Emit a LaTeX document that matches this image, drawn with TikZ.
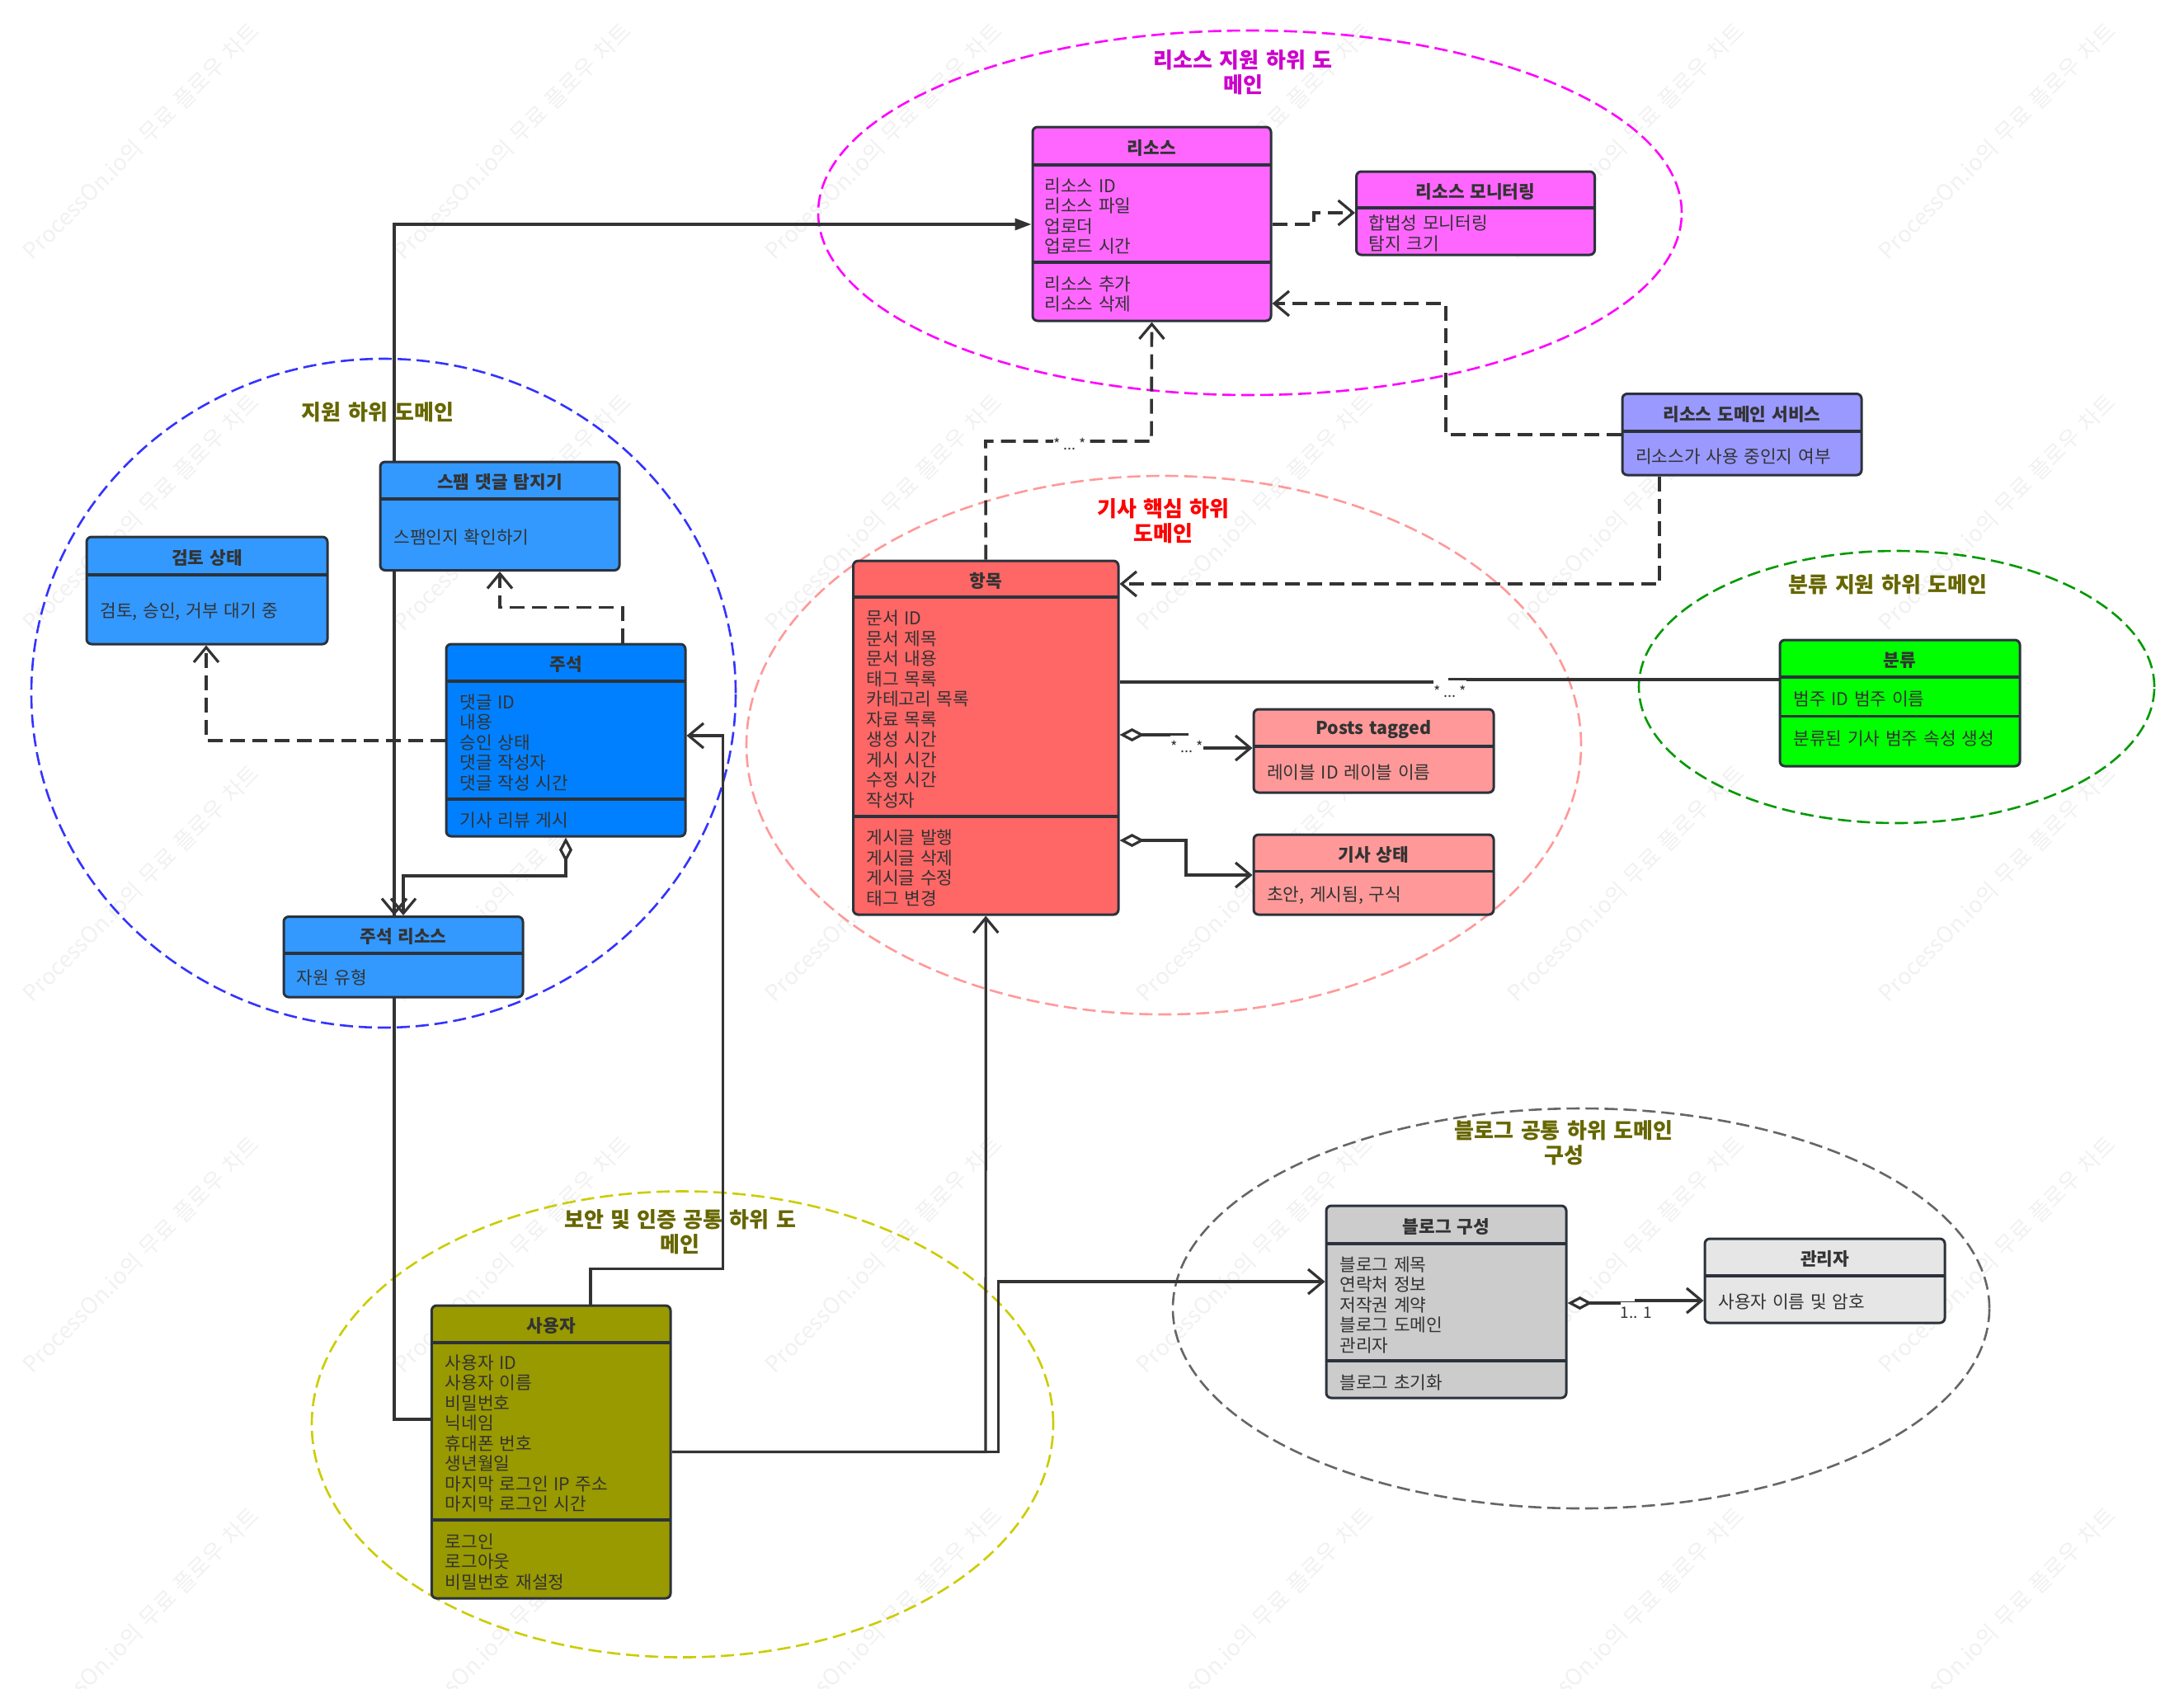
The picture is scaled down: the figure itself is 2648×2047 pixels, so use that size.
\documentclass[tikz,border=0pt]{standalone}
\usepackage{fontspec}
\setmainfont[WordSpace=1.4]{Noto Sans CJK KR}
\usepackage{xcolor}
\usepackage{tikz}
\usetikzlibrary{positioning,%
  arrows.meta,%
  backgrounds,%
  shapes.geometric%
}

\definecolor{linegray}{HTML}{333333}
\definecolor{edgegray}{HTML}{2B323B}
\definecolor{markgray}{HTML}{F1F1F1}
\definecolor{olivetitle}{HTML}{666600}
\definecolor{restitle}{HTML}{CC00CC}
\definecolor{resline}{HTML}{FF00FF}
\definecolor{supline}{HTML}{3333FF}
\definecolor{catline}{HTML}{009900}
\definecolor{secline}{HTML}{CCCC00}
\definecolor{cfgline}{HTML}{666666}
\definecolor{resfill}{HTML}{FF66FF}
\definecolor{bluefill}{HTML}{3399FF}
\definecolor{notefill}{HTML}{0080FF}
\definecolor{artfill}{HTML}{FF6666}
\definecolor{palefill}{HTML}{FF9999}
\definecolor{svcfill}{HTML}{9999FF}
\definecolor{catfill}{HTML}{00FF00}
\definecolor{userfill}{HTML}{999900}
\definecolor{cfgfill}{HTML}{CCCCCC}
\definecolor{adminfill}{HTML}{E6E6E6}

% name, colour, left, top, right, bottom, title, header line
\newcommand{\classbox}[8]{%
  \node (#1) [classbody, fill=#2, minimum width=(#5-#3)*.5pt, minimum height=(#6-#4)*.5pt]
    at ({(#3+#5)/2},{(#4+#6)/2}) {};
  \node (#1-title) [classtitle] at ({(#3+#5)/2},{(#4+#8)/2}) {#7};
  \draw[classrule] (#3,#8) -- (#5,#8);
}
\newcommand{\manystars}{*\kern2pt...\kern2pt*}

\begin{document}
\begin{tikzpicture}
    [
        x=.5pt, y=-.5pt,
        classbody/.style={draw=edgegray, line width=1.5pt, rounded corners=3pt, inner sep=0pt},
        classtitle/.style={font=\fontsize{10.7}{12.25}\selectfont\bfseries, text=linegray, inner sep=0pt, yshift=-1pt},
        classrule/.style={draw=edgegray, line width=1.6pt},
        classtext/.style={font=\fontsize{10.7}{12.25}\selectfont, text=linegray, align=left, anchor=west, inner sep=0pt, yshift=-.5pt},
        domainarea/.style={ellipse, line width=1.3pt, dash pattern=on 8pt off 3.5pt, inner sep=0pt},
        domaintitle/.style={font=\fontsize{13}{15}\selectfont\bfseries, align=center, inner sep=0pt, yshift=-.5pt},
        watermark/.style={font=\fontsize{13.6}{16}\selectfont, text=markgray, rotate=45, inner sep=0pt},
        link/.style={draw=linegray, line width=1.6pt},
        solidlink/.style={link, -{Straight Barb[length=9pt,width=15pt,line width=1.6pt]}},
        deplink/.style={solidlink, line width=1.8pt, dash pattern=on 9pt off 4.5pt},
        filledlink/.style={link, -{Triangle[length=10pt,width=7pt]}},
        partlink/.style={link, {Diamond[open,fill=white,length=15pt,width=8pt,line width=1.6pt]}-{Straight Barb[length=9pt,width=15pt,line width=1.6pt]}},
        multlabel/.style={fill=white, text=linegray, font=\fontsize{9}{11}\selectfont, inner sep=0pt, minimum width=16.5pt, minimum height=13pt}
    ]

    \useasboundingbox (0,0) rectangle (2648,2047);

    % resource domain
    \classbox{res}{resfill}{1252}{154}{1541}{389}{리소스}{200}
    \draw[classrule] (1252,318) -- (1541,318);
    \node (res-attr) [classtext] at (1266,261) {리소스 ID\\리소스 파일\\업로더\\업로드 시간};
    \node (res-ops) [classtext] at (1266,355.5) {리소스 추가\\리소스 삭제};

    \classbox{mon}{resfill}{1644.5}{208}{1933.5}{309}{리소스 모니터링}{252}
    \node (mon-attr) [classtext] at (1659,282) {합법성 모니터링\\탐지 크기};

    \classbox{svc}{svcfill}{1967}{477.5}{2257}{576}{리소스 도메인 서비스}{523}
    \node (svc-attr) [classtext] at (1982.6,552) {리소스가 사용 중인지 여부};

    % support domain
    \classbox{spam}{bluefill}{461}{560}{751}{691.5}{스팸 댓글 탐지기}{605}
    \node (spam-attr) [classtext] at (477,650) {스팸인지 확인하기};

    \classbox{review}{bluefill}{105}{651}{397}{781}{검토 상태}{697}
    \node (review-attr) [classtext] at (121,741) {검토, 승인, 거부 대기 중};

    \classbox{note}{notefill}{541}{781}{831}{1014}{주석}{826}
    \draw[classrule] (541,969) -- (831,969);
    \node (note-attr) [classtext] at (557,899) {댓글 ID\\내용\\승인 상태\\댓글 작성자\\댓글 작성 시간};
    \node (note-ops) [classtext] at (557,993) {기사 리뷰 게시};

    \classbox{noteres}{bluefill}{344}{1111.5}{634}{1209}{주석 리소스}{1156}
    \node (noteres-attr) [classtext] at (359,1184) {자원 유형};

    % article domain
    \classbox{art}{artfill}{1034.5}{680}{1356}{1109}{항목}{724}
    \draw[classrule] (1034.5,990) -- (1356,990);
    \node (art-attr) [classtext] at (1050,859) {문서 ID\\문서 제목\\문서 내용\\태그 목록\\카테고리 목록\\자료 목록\\생성 시간\\게시 시간\\수정 시간\\작성자};
    \node (art-ops) [classtext] at (1050,1051.5) {게시글 발행\\게시글 삭제\\게시글 수정\\태그 변경};

    \classbox{tag}{palefill}{1520}{860}{1811}{961}{Posts tagged}{905}
    \node (tag-attr) [classtext] at (1535.6,935) {레이블 ID 레이블 이름};

    \classbox{state}{palefill}{1520}{1012}{1811}{1109}{기사 상태}{1056.5}
    \node (state-attr) [classtext] at (1535.6,1085) {초안, 게시됨, 구식};

    % category domain
    \classbox{cat}{catfill}{2158}{776}{2449}{929}{분류}{821}
    \draw[classrule] (2158,868.6) -- (2449,868.6);
    \node (cat-attr) [classtext] at (2174,846) {범주 ID 범주 이름};
    \node (cat-ops) [classtext] at (2174,894.6) {분류된 기사 범주 속성 생성};

    % security domain
    \classbox{user}{userfill}{523.4}{1583}{813}{1938}{사용자}{1628}
    \draw[classrule] (523.4,1843) -- (813,1843);
    \node (user-attr) [classtext] at (539.5,1737) {사용자 ID\\사용자 이름\\비밀번호\\닉네임\\휴대폰 번호\\생년월일\\마지막 로그인 IP 주소\\마지막 로그인 시간};
    \node (user-ops) [classtext] at (539.5,1892.5) {로그인\\로그아웃\\비밀번호 재설정};

    % blog domain
    \classbox{cfg}{cfgfill}{1608}{1462}{1899}{1695}{블로그 구성}{1508}
    \draw[classrule] (1608,1650) -- (1899,1650);
    \node (cfg-attr) [classtext] at (1624,1581) {블로그 제목\\연락처 정보\\저작권 계약\\블로그 도메인\\관리자};
    \node (cfg-ops) [classtext] at (1624,1675) {블로그 초기화};

    \classbox{admin}{adminfill}{2067}{1502}{2358}{1604}{관리자}{1547}
    \node (admin-attr) [classtext] at (2083,1577) {사용자 이름 및 암호};

    % titles of the domains
    \node (res-name) [domaintitle, text=restitle] at (1507,87) {리소스 지원 하위 도\\메인};
    \node (sup-name) [domaintitle, text=olivetitle] at (458,498.5) {지원 하위 도메인};
    \node (art-name) [domaintitle, text=red] at (1410.5,631) {기사 핵심 하위\\도메인};
    \node (cat-name) [domaintitle, text=olivetitle] at (2289,708) {분류 지원 하위 도메인};
    \node (sec-name) [domaintitle, text=olivetitle] at (824.6,1493) {보안 및 인증 공통 하위 도\\메인};
    \node (cfg-name) [domaintitle, text=olivetitle] at (1896,1385) {블로그 공통 하위 도메인\\구성};

    % multiplicities
    \node (mult-cat) [multlabel] at (1758,838) {\manystars};
    \node (mult-tag) [multlabel] at (1439,905) {\manystars};
    \node (mult-res) [multlabel] at (1297,538) {\manystars};
    \node (mult-adm) [multlabel, font=\fontsize{9.5}{11}\selectfont] at (1984,1592) {1.. 1};

    \begin{pgfonlayer}{background}
        \foreach \wx in {0,...,5}
            \foreach \wy in {0,...,4}
                \node (mark\wx\wy) [watermark] at ({171+450*\wx},{171+450*\wy}) {ProcessOn.io의 무료 플로우 차트};

        \node (res-area) [domainarea, draw=resline, minimum width=523.5pt, minimum height=221pt] at (1515.5,258) {};
        \node (sup-area) [domainarea, draw=supline, minimum width=427pt, minimum height=405.5pt] at (465,840.5) {};
        \node (art-area) [domainarea, draw=palefill, minimum width=506pt, minimum height=326.5pt] at (1411,903.5) {};
        \node (cat-area) [domainarea, draw=catline, minimum width=312.5pt, minimum height=165pt] at (2299.5,833) {};
        \node (sec-area) [domainarea, draw=secline, minimum width=449.5pt, minimum height=282.5pt] at (827.5,1727) {};
        \node (cfg-area) [domainarea, draw=cfgline, minimum width=495pt, minimum height=242.5pt] at (1917,1586.5) {};

        % connectors
        \draw[filledlink] (user.west |- 0,1721) -- (478,1721) -- (478,272) -- (res.west |- 0,272);
        \draw[solidlink] (478,691) -- (noteres.north -| 478,0);
        \draw[solidlink] (user.north -| 716,0) -- (716,1538.5) -- (876.5,1538.5) -- (876.5,892) -- (note.east |- 0,892);
        \draw[solidlink] (user.east |- 0,1760.5) -- (1195,1760.5) -- (art.south);
        \draw[solidlink] (user.east |- 0,1760.5) -- (1210.6,1760.5) -- (1210.6,1554) -- (cfg.west |- 0,1554);

        \draw[deplink] (note.north -| 755,0) -- (755,736.5) -- (606,736.5) -- (spam.south -| 606,0);
        \draw[deplink] (note.west |- 0,898) -- (250,898) -- (review.south -| 250,0);
        \draw[partlink] (note.south) -- (686,1062) -- (489,1062) -- (noteres.north);

        \draw[deplink] (res.east |- 0,272) -- (1593,272) -- (1593,258) -- (mon.west |- 0,258);
        \draw[deplink] (svc.west |- 0,527) -- (1753,527) -- (1753,368) -- (res.east |- 0,368);
        \draw[deplink] (svc.south -| 2012,0) -- (2012,708) -- (art.east |- 0,708);
        \draw[deplink] (art.north) -- (1195,535) -- (1396,535) -- (res.south);

        \draw[link] (art.east |- 0,827) -- (1758,827) -- (1758,824) -- (cat.west |- 0,824);
        \draw[partlink] (art.east |- 0,891) -- (1439,891) -- (1439,907) -- (tag.west |- 0,907);
        \draw[partlink] (art.east |- 0,1019) -- (1438,1019) -- (1438,1061) -- (state.west |- 0,1061);
        \draw[partlink] (cfg.east |- 0,1580) -- (1984,1580) -- (1984,1577) -- (admin.west |- 0,1577);
    \end{pgfonlayer}
\end{tikzpicture}
\end{document}
